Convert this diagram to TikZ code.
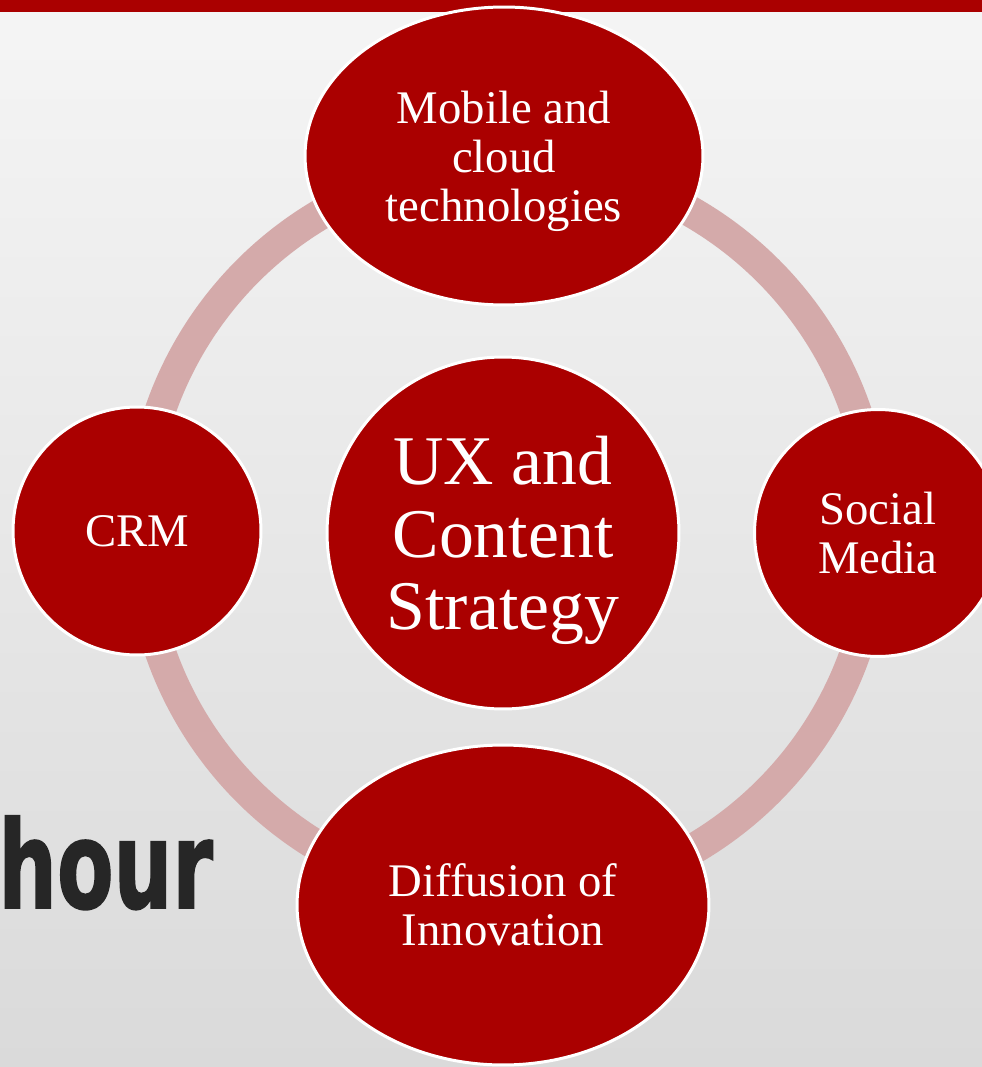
\documentclass[tikz,border=0pt]{standalone}
\usepackage{graphicx}
\usepackage{fontspec}
\setmainfont{Liberation Serif}
\newfontfamily\hourfont[FakeBold=1.5]{DejaVu Sans}
\usetikzlibrary{shapes.geometric}
\definecolor{deepred}{RGB}{170,0,0}
\definecolor{ringpink}{RGB}{212,170,170}
\definecolor{bgtop}{RGB}{245,245,245}
\definecolor{bgbottom}{RGB}{218,218,218}
\definecolor{hourgray}{RGB}{38,38,38}
\tikzset{
  bubble/.style={fill=deepred, draw=white, line width=1.7pt, text=white, align=center,
    inner sep=0pt, font=\fontsize{26.6}{27.8}\selectfont},
  roundbubble/.style={bubble, circle, minimum size=#1},
  ovalbubble/.style 2 args={bubble, ellipse, minimum width=#1, minimum height=#2}
}
\begin{document}
\begin{tikzpicture}[x=0.02cm,y=-0.02cm]
\useasboundingbox (0,0) rectangle (982,1067);
\clip (0,0) rectangle (982,1067);
\shade[top color=bgtop, bottom color=bgbottom] (0,0) rectangle (982,1067);
\fill[deepred] (0,0) rectangle (982,12);
\node[anchor=base west, inner sep=0pt, text=hourgray, font=\hourfont\bfseries\fontsize{69}{69}\selectfont] (hour) at (-2,908) {\scalebox{0.68}[1]{hour}};
\draw[ringpink, line width=0.62cm] (508,531) circle[radius=7.36cm];
\node[roundbubble=7.04cm, text depth=0pt, font=\fontsize{39.7}{41.4}\selectfont] (ux) at (503,533) {UX and\\Content\\Strategy};
\node[ovalbubble={7.96cm}{5.96cm}, text depth=0pt] (mobile) at (504,156) {Mobile and\\cloud\\technologies};
\node[roundbubble=4.96cm] (crm) at (137,531) {CRM};
\node[roundbubble=4.94cm] (social) at (878,533) {Social\\Media};
\node[ovalbubble={8.24cm}{6.4cm}] (diffusion) at (503,905) {Diffusion of\\Innovation};
\end{tikzpicture}
\end{document}
